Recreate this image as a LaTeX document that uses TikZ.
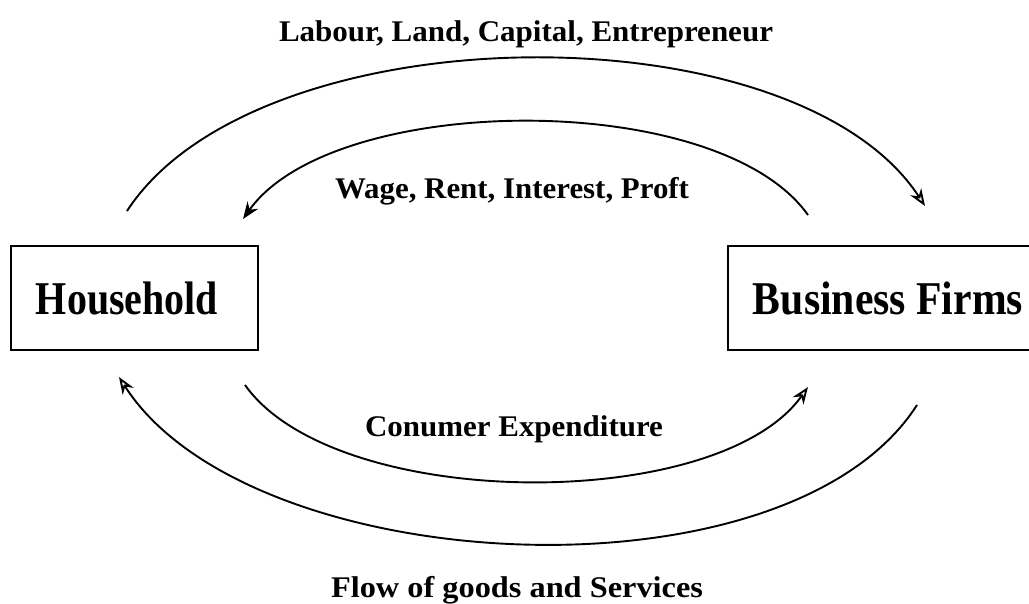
\documentclass[tikz,border=0pt]{standalone}
\usepackage{graphicx}
\usepackage{fontspec}
\setmainfont{Liberation Serif}
\usetikzlibrary{positioning,arrows.meta,calc}
\definecolor{inkc}{HTML}{000000}
\newcommand{\fitw}[2]{\resizebox{#1}{\height}{#2}}
\tikzset{
  sect/.style ={draw=inkc,line width=2pt,inner sep=0pt,minimum height=104pt,
                font=\fontsize{47}{50}\selectfont\bfseries},
  lbl/.style  ={inner sep=0pt,anchor=base,text=inkc,font=\fontsize{30}{32}\selectfont\bfseries},
  flow/.style ={-{Stealth[length=17pt,width=13pt,open]},draw=inkc,line width=1.9pt},
  flowF/.style={-{Stealth[length=17pt,width=13pt]},draw=inkc,line width=1.9pt},
}
\begin{document}
\begin{tikzpicture}[x=1pt,y=-1pt]
\clip (0,0) rectangle (1029,603);
\useasboundingbox (0,0) rectangle (1029,603);

% ---------- sectors ------------------------------------------------------
\node[sect,minimum width=247pt] (hh) at (134.5,298)
  {\fitw{182pt}{Household}\hspace*{15pt}};
\node[sect,minimum width=320pt] (bf) at (888,298)
  {\fitw{270pt}{Business Firms}};

% ---------- arc ends -----------------------------------------------------
\coordinate (fs) at (127,211);  \coordinate (fe) at (925,206);
\coordinate (ps) at (808,215);  \coordinate (pe) at (243,219);
\coordinate (cs) at (245,385);  \coordinate (ce) at (808,387);
\coordinate (gs) at (917,405);  \coordinate (ge) at (119,377);

% ---------- money and factor flows ---------------------------------------
\draw[flow]  (fs) .. controls ($(fs)+(130,-200)$) and ($(fe)+(-130,-200)$) .. (fe);
\draw[flowF] (ps) .. controls ($(ps)+(-90,-127)$) and ($(pe)+(90,-127)$) .. (pe);
\draw[flow]  (cs) .. controls ($(cs)+(90,127)$) and ($(ce)+(-90,127)$) .. (ce);
\draw[flow]  (gs) .. controls ($(gs)+(-130,203)$) and ($(ge)+(130,203)$) .. (ge);

% ---------- labels -------------------------------------------------------
\node[lbl] (lf) at (526,41.5) {\fitw{494pt}{Labour, Land, Capital, Entrepreneur}};
\node[lbl] (lp) at (512,198)  {\fitw{354pt}{Wage, Rent, Interest, Proft}};
\node[lbl] (lc) at (514,436)  {\fitw{298pt}{Conumer Expenditure}};
\node[lbl] (lg) at (517,597)  {\fitw{372pt}{Flow of goods and Services}};
\end{tikzpicture}
\end{document}
